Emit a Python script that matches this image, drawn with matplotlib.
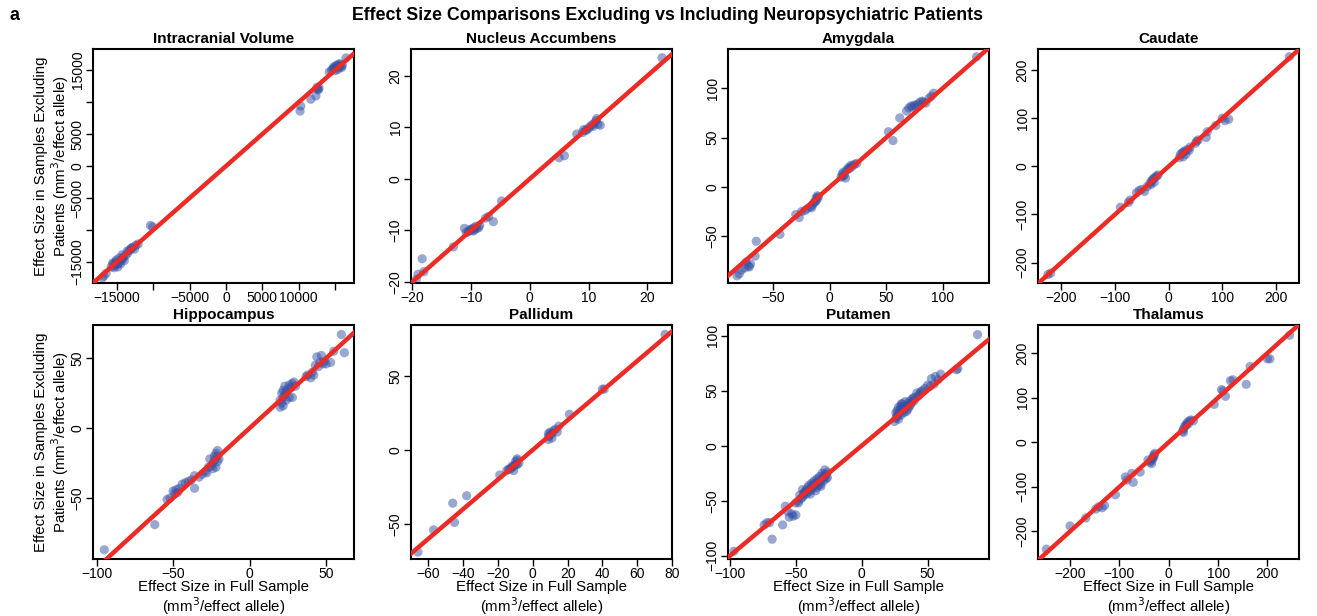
import matplotlib
matplotlib.use("Agg")
import matplotlib.pyplot as plt

plt.rcParams['font.family'] = ['Liberation Sans', 'DejaVu Sans']
plt.rcParams['axes.unicode_minus'] = True

W, H = 1317, 616
PT_COL = '#3551A5'
LINE_COL = '#EE2A25'

# ---- panel names ----
regions = ["Intracranial Volume", "Nucleus Accumbens", "Amygdala", "Caudate",
           "Hippocampus", "Pallidum", "Putamen", "Thalamus"]

# ---- effect sizes: full sample (x) vs excluding patients (y) ----
icv_x = [-17000, -16800, -16500, -15800, -15500, -15300, -15200, -15000, -14900, -14800,
         -14600, -14500, -14400, -14200, -14000, -14300, -13800, -13500, -13300, -13100,
         -13000, -12800, -12600, -12400, -12100, -15600, -15100, -14700, -15400, -14100,
         -13600, -10400, -10100, 10280, 10180, 11670, 12360, 12600, 12800, 12700,
         12500, 14200, 14500, 14700, 14900, 15000, 15200, 15400, 15500, 15700,
         15800, 15900, 16000, 14800, 15100, 15300, 16500, 15600]
icv_y = [-17500, -17200, -16800, -15800, -15300, -15600, -15000, -15400, -15800, -15200,
         -14900, -15300, -14700, -14500, -14800, -13900, -14000, -13600, -13200, -13000,
         -12800, -12700, -13000, -12400, -12200, -15200, -14700, -14400, -15900, -14200,
         -13300, -9300, -9500, 9380, 8590, 10440, 10960, 12030, 12200, 11900,
         12300, 14700, 15000, 15200, 15300, 14900, 15400, 15100, 15600, 15500,
         15900, 15400, 15700, 15500, 15700, 15800, 16900, 16000]

nac_x = [22.5, -18.3, -19.0, -18.0, -19.3, -13.0, -11.1, -10.5, -10.0, -9.8,
         -9.5, -9.2, -9.0, -8.7, -10.2, -9.6, -8.5, -7.5, -7.0, -6.2,
         -4.8, 5.0, 5.9, 8.0, 9.0, 9.5, 9.7, 10.0, 10.3, 10.6,
         11.0, 11.3, 11.4, 12.0, 11.6, 9.2, 10.8, -10.8, -9.4]
nac_y = [23.5, -15.5, -18.5, -18.0, -19.5, -13.2, -9.6, -10.3, -10.0, -9.7,
         -9.5, -9.2, -9.6, -9.5, -9.8, -10.1, -9.0, -7.6, -7.3, -8.3,
         -4.3, 4.1, 4.5, 8.7, 9.0, 9.4, 9.5, 9.8, 10.2, 10.5,
         10.8, 11.3, 11.7, 10.4, 10.6, 9.6, 10.2, -10.4, -9.9]

amy_x = [130, 70, 72, 73, 75, 78, 80, 82, 85, 88, 90, 92, 68, 76, 62, 52, 56, 83,
         10, 11, 12, 13, 14, 15, 17, 18, 20, 22, 24, 12, 19, 16,
         -10, -11, -12, -13, -14, -15, -17, -20, -22, -25, -12, -11, -16, -30, -27, -44,
         -65, -66, -70, -72, -75, -78, -80, -82, -71, -74]
amy_y = [132, 80, 82, 81, 83, 84, 86, 87, 85, 90, 92, 95, 77, 82, 70, 56, 47, 86,
         10, 13, 15, 12, 9, 17, 20, 19, 21, 23, 24, 11, 22, 18,
         -10, -12, -11, -15, -16, -18, -20, -22, -24, -25, -14, -9, -21, -28, -31, -48,
         -55, -70, -78, -80, -82, -84, -88, -90, -81, -76]

cau_x = [225, -225, -220, -90, -75, -72, -60, -55, -50, -45, -40, -35, -32, -30, -28,
         -25, -22, -27, -20, -33, 20, 22, 25, 28, 30, 32, 35, 38, 40, 27,
         50, 52, 55, 70, 72, 88, 105, 112, 100]
cau_y = [228, -225, -222, -85, -75, -70, -55, -50, -48, -52, -42, -35, -30, -28, -25,
         -22, -20, -33, -18, -38, 18, 25, 28, 30, 32, 25, 35, 33, 40, 20,
         48, 52, 55, 60, 72, 85, 95, 98, 100]

hip_x = [-95, -62, -54, -52, -50, -49, -48, -47, -46, -44, -42, -40, -38, -36, -36,
         -33, -31, -29, -28, -27, -26, -25, -24, -23, -22, -21, -21, -22, -20, -23,
         -24, -21, 20, 20, 21, 21, 22, 22, 23, 23, 24, 25, 26, 26, 27, 28, 29, 30,
         28, 24, 22, 37, 38, 40, 41, 42, 43, 44, 45, 46, 47, 48, 49, 50, 53, 55, 60, 62]
hip_y = [-87, -69, -51, -50, -45, -47, -44, -46, -43, -40, -39, -38, -37, -34, -43,
         -35, -33, -31, -32, -28, -22, -27, -25, -20, -18, -16, -24, -28, -22, -23,
         -29, -20, 15, 20, 25, 18, 22, 27, 24, 30, 26, 28, 22, 31, 29, 32, 33, 30,
         22, 20, 16, 37, 38, 36, 40, 38, 45, 51, 44, 47, 52, 46, 48, 46, 47, 55, 67, 54]

pal_x = [-66, -57, -46, -45, -38, -19, -15, -14, -13, -12, -11, -10, -10, -9, -9, -8,
         -11, -12, -9, 9, 9, 10, 10, 11, 12, 13, 14, 15, 9, 11, 21, 40, 41, 76]
pal_y = [-69, -54, -36, -49, -31, -17, -14, -13, -13, -12, -11, -10, -8, -7, -6, -9,
         -14, -11, -10, 7, 9, 10, 12, 11, 13, 14, 12, 16, 11, 8, 24, 41, 41, 78]

put_x = [-97, -74, -72, -70, -68, -60, -58, -56, -55, -53, -52, -50, -50, -48, -47,
         -46, -45, -44, -43, -42, -41, -40, -40, -39, -38, -37, -36, -36, -35, -34,
         -34, -33, -32, -32, -31, -30, -30, -29, -29, -28, -28, -27, -27, -26, -26,
         -45, -42, -38, -35, -31, -48, -44, -33, -39, -37,
         25, 26, 26, 27, 27, 28, 28, 29, 29, 30, 30, 31, 31, 32, 32, 33, 33, 34, 35,
         35, 36, 37, 38, 38, 40, 40, 42, 43, 44, 45, 46, 48, 50, 52, 53, 55, 56, 58,
         60, 72, 73, 88, 28, 31, 34, 27, 30, 36, 39]
put_y = [-96, -72, -70, -70, -85, -72, -55, -60, -65, -62, -64, -52, -63, -50, -45,
         -48, -40, -45, -42, -44, -38, -42, -36, -40, -38, -35, -36, -32, -34, -30,
         -38, -31, -33, -28, -35, -30, -25, -32, -27, -28, -22, -30, -26, -29, -24,
         -47, -40, -34, -41, -37, -52, -43, -36, -44, -39,
         22, 30, 25, 32, 28, 35, 24, 30, 33, 28, 36, 32, 38, 30, 35, 34, 40, 36, 38,
         33, 40, 37, 42, 39, 44, 41, 48, 45, 47, 49, 50, 52, 55, 54, 61, 56, 63, 60,
         65, 69, 70, 101, 29, 34, 31, 26, 38, 35, 43]

tha_x = [-248, -200, -168, -148, -142, -135, -130, -108, -88, -85, -75, -72, -58,
         -42, -38, -35, -33, -30, -28, -32, -36, -30, 28, 30, 32, 35, 38, 40, 42,
         45, 50, 30, 36, 92, 107, 110, 115, 125, 130, 157, 165, 200, 205, 245]
tha_y = [-240, -188, -170, -150, -145, -147, -142, -118, -78, -85, -70, -90, -67,
         -40, -45, -48, -35, -28, -25, -38, -42, -32, 25, 30, 35, 40, 45, 42, 48,
         50, 48, 22, 38, 85, 118, 115, 103, 138, 140, 130, 170, 187, 187, 240]

xs = [icv_x, nac_x, amy_x, cau_x, hip_x, pal_x, put_x, tha_x]
ys = [icv_y, nac_y, amy_y, cau_y, hip_y, pal_y, put_y, tha_y]

# axis ranges
xlims = [(-18300, 17600), (-20.2, 24.2), (-90, 141), (-243.6, 243),
         (-102.4, 68.3), (-70, 80), (-101.5, 96.7), (-265, 264)]
ylims = [(-18300, 18300), (-20.2, 25.2), (-97.3, 139.8), (-242.5, 244),
         (-93.6, 73.8), (-73.7, 84.3), (-103, 109.7), (-262, 263)]

# tick positions and their labels ('' where labels were dropped)
icv_ticks = [-15000, -10000, -5000, 0, 5000, 10000, 15000]
xticks = [icv_ticks, [-20, -10, 0, 10, 20], [-50, 0, 50, 100], [-200, -100, 0, 100, 200],
          [-100, -50, 0, 50], [-60, -40, -20, 0, 20, 40, 60, 80], [-100, -50, 0, 50],
          [-200, -100, 0, 100, 200]]
yticks = [icv_ticks, [-20, -10, 0, 10, 20], [-50, 0, 50, 100], [-200, -100, 0, 100, 200],
          [-50, 0, 50], [-50, 0, 50], [-100, -50, 0, 50, 100], [-200, -100, 0, 100, 200]]
icv_xlab = ["\u221215000", "", "\u22125000", "0", "5000", "10000", ""]
icv_ylab = ["\u221215000", "", "\u22125000", "0", "5000", "", "15000"]

def fmt(v):
    return ("\u2212" + str(-v)) if v < 0 else str(v)

col_left = [93, 411, 728, 1038]
row_top = [49, 325]
ax_w, ax_h = 261, 234

fig = plt.figure(figsize=(W / 100, H / 100), dpi=100)
fig.text(668 / W, 1 - 16 / H, "Effect Size Comparisons Excluding vs Including Neuropsychiatric Patients",
         ha='center', va='center', fontsize=12.8, fontweight='bold')
fig.text(10 / W, 1 - 16 / H, "a", ha='left', va='center', fontsize=13, fontweight='bold')

for i, name in enumerate(regions):
    r, c = divmod(i, 4)
    ax = fig.add_axes([col_left[c] / W, 1 - (row_top[r] + ax_h) / H, ax_w / W, ax_h / H])
    ax.scatter(xs[i], ys[i], s=44, color=PT_COL, alpha=0.5, edgecolors='none', zorder=2)
    ax.axline((0, 0), slope=1, color=LINE_COL, lw=3.2, zorder=3)
    ax.set_xlim(xlims[i])
    ax.set_ylim(ylims[i])
    ax.set_xticks(xticks[i])
    ax.set_yticks(yticks[i])
    if i == 0:
        ax.set_xticklabels(icv_xlab)
        ax.set_yticklabels(icv_ylab)
    else:
        ax.set_xticklabels([fmt(v) for v in xticks[i]])
        ax.set_yticklabels([fmt(v) for v in yticks[i]])
    ax.tick_params(direction='out', length=5, width=1, labelsize=10, pad=1)
    plt.setp(ax.get_yticklabels(), rotation=90, va='center')
    for sp in ax.spines.values():
        sp.set_linewidth(1.5)
    ax.set_title(name, fontsize=11, fontweight='bold', pad=4)
    if c == 0:
        ax.set_ylabel("Effect Size in Samples Excluding\nPatients (mm$^3$/effect allele)",
                      fontsize=10.8, linespacing=1.05)
        ax.yaxis.set_label_coords(-0.085, 0.5)
    if r == 1:
        ax.set_xlabel("Effect Size in Full Sample\n(mm$^3$/effect allele)",
                      fontsize=10.8, linespacing=1.05)
        ax.xaxis.set_label_coords(0.5, -0.09)

fig.savefig("out.png", dpi=100)
